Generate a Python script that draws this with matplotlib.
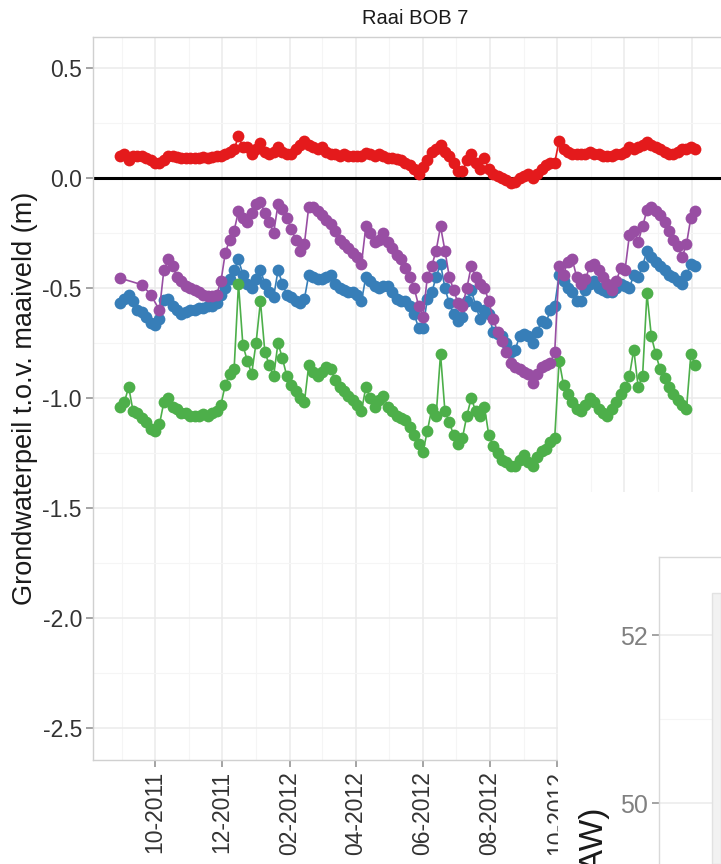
import matplotlib
import matplotlib.pyplot as plt
import matplotlib.dates as mdates
from matplotlib.patches import Rectangle
from matplotlib.ticker import FormatStrFormatter, MultipleLocator
import numpy as np
import pandas as pd

matplotlib.use("Agg")

plt.rcParams["font.family"] = ["Liberation Sans", "DejaVu Sans"]
plt.rcParams["axes.unicode_minus"] = False

title = "Raai BOB 7"
ylabel = "Grondwaterpeil t.o.v. maaiveld (m)"
ylabel_2 = "Grondwaterpeil (m TAW)"
start_date = "2011-08-30"
step_days = 4

red = [
    0.10, 0.11, 0.08, 0.10, 0.10, 0.10, 0.09, 0.08, 0.07, 0.07,
    0.08, 0.10, 0.10, 0.095, 0.09, 0.09, 0.09, 0.09, 0.09, 0.095,
    0.09, 0.095, 0.10, 0.10, 0.11, 0.12, 0.13, 0.19, 0.14, 0.14,
    0.11, 0.13, 0.16, 0.12, 0.11, 0.12, 0.14, 0.12, 0.11, 0.11,
    0.13, 0.15, 0.17, 0.15, 0.14, 0.13, 0.14, 0.12, 0.11, 0.11,
    0.10, 0.11, 0.10, 0.10, 0.10, 0.10, 0.115, 0.11, 0.10, 0.11,
    0.10, 0.09, 0.09, 0.085, 0.08, 0.07, 0.06, 0.04, 0.02, 0.05,
    0.08, 0.12, 0.13, 0.15, 0.12, 0.10, 0.07, 0.03, 0.03, 0.08,
    0.11, 0.07, 0.04, 0.09, 0.04, 0.02, 0.01, 0.0, -0.01, -0.025,
    -0.02, 0.0, 0.01, 0.02, 0.0, 0.02, 0.04, 0.06, 0.07, 0.07,
    0.17, 0.13, 0.12, 0.11, 0.11, 0.11, 0.11, 0.12, 0.11, 0.11,
    0.10, 0.10, 0.10, 0.11, 0.11, 0.12, 0.14, 0.13, 0.14, 0.15,
    0.165, 0.15, 0.14, 0.13, 0.12, 0.11, 0.11, 0.12, 0.13, 0.13,
    0.14, 0.13,
]
blue = [
    -0.57, -0.55, -0.53, -0.56, -0.60, -0.61, -0.63, -0.66, -0.67, -0.64,
    -0.555, -0.55, -0.58, -0.60, -0.62, -0.61, -0.60, -0.60, -0.59, -0.59,
    -0.58, -0.58, -0.57, -0.53, -0.50, -0.46, -0.42, -0.37, -0.44, -0.48,
    -0.50, -0.46, -0.42, -0.48, -0.52, -0.54, -0.42, -0.48, -0.53, -0.54,
    -0.56, -0.57, -0.55, -0.44, -0.45, -0.46, -0.46, -0.45, -0.44, -0.48,
    -0.50, -0.51, -0.52, -0.52, -0.53, -0.56, -0.45, -0.47, -0.49, -0.50,
    -0.49, -0.49, -0.52, -0.55, -0.56, -0.56, -0.58, -0.62, -0.68, -0.68,
    -0.55, -0.52, -0.45, -0.39, -0.50, -0.57, -0.62, -0.65, -0.63, -0.56,
    -0.51, -0.58, -0.64, -0.60, -0.62, -0.70, -0.71, -0.72, -0.75, -0.79,
    -0.78, -0.72, -0.71, -0.72, -0.75, -0.70, -0.65, -0.66, -0.60, -0.58,
    -0.44, -0.47, -0.50, -0.52, -0.56, -0.56, -0.51, -0.48, -0.47, -0.50,
    -0.51, -0.52, -0.52, -0.50, -0.48, -0.49, -0.50, -0.44, -0.45, -0.40,
    -0.33, -0.36, -0.38, -0.40, -0.42, -0.44, -0.45, -0.47, -0.48, -0.44,
    -0.39, -0.40,
]
purple = [
    -0.455, None, None, None, None, -0.485, None, -0.53, None, -0.60,
    -0.42, -0.37, -0.40, -0.45, -0.47, -0.49, -0.50, -0.51, -0.52, -0.53,
    -0.535, -0.535, -0.53, -0.47, -0.34, -0.28, -0.24, -0.15, -0.18, -0.20,
    -0.16, -0.12, -0.11, -0.16, -0.20, -0.25, -0.12, -0.14, -0.18, -0.23,
    -0.28, -0.33, -0.30, -0.13, -0.13, -0.15, -0.17, -0.19, -0.21, -0.24,
    -0.28, -0.30, -0.32, -0.34, -0.36, -0.39, -0.22, -0.25, -0.29, -0.28,
    -0.25, -0.29, -0.32, -0.35, -0.37, -0.41, -0.45, -0.50, -0.58, -0.63,
    -0.45, -0.40, -0.33, -0.22, -0.33, -0.45, -0.51, -0.57, -0.58, -0.50,
    -0.40, -0.45, -0.48, -0.50, -0.56, -0.64, -0.70, -0.74, -0.79, -0.84,
    -0.86, -0.87, -0.88, -0.89, -0.93, -0.89, -0.86, -0.85, -0.84, -0.79,
    -0.40, -0.44, -0.38, -0.37, -0.45, -0.48, -0.46, -0.40, -0.39, -0.42,
    -0.45, -0.48, -0.51, -0.47, -0.41, -0.42, -0.26, -0.24, -0.29, -0.22,
    -0.145, -0.13, -0.15, -0.17, -0.20, -0.24, -0.28, -0.31, -0.36, -0.30,
    -0.18, -0.15,
]
green = [
    -1.04, -1.02, -0.95, -1.06, -1.07, -1.09, -1.11, -1.14, -1.15, -1.12,
    -1.02, -1.00, -1.04, -1.05, -1.07, -1.07, -1.08, -1.08, -1.08, -1.075,
    -1.08, -1.07, -1.06, -1.03, -0.94, -0.89, -0.87, -0.48, -0.76, -0.83,
    -0.89, -0.75, -0.56, -0.79, -0.85, -0.90, -0.75, -0.82, -0.90, -0.94,
    -0.97, -1.00, -1.02, -0.85, -0.88, -0.90, -0.88, -0.86, -0.87, -0.92,
    -0.95, -0.97, -0.99, -1.01, -1.03, -1.06, -0.95, -1.00, -1.04, -1.01,
    -0.99, -1.04, -1.06, -1.08, -1.09, -1.10, -1.13, -1.17, -1.21, -1.245,
    -1.15, -1.05, -1.08, -0.80, -1.06, -1.11, -1.17, -1.21, -1.18, -1.08,
    -1.00, -1.06, -1.08, -1.04, -1.17, -1.22, -1.25, -1.28, -1.29, -1.31,
    -1.31, -1.28, -1.26, -1.29, -1.31, -1.27, -1.24, -1.23, -1.20, -1.18,
    -0.83, -0.94, -0.98, -1.02, -1.05, -1.06, -1.03, -1.00, -1.02, -1.05,
    -1.07, -1.08, -1.05, -1.02, -0.98, -0.95, -0.90, -0.78, -0.95, -0.90,
    -0.525, -0.72, -0.80, -0.87, -0.91, -0.95, -0.98, -1.01, -1.03, -1.05,
    -0.80, -0.85,
]

series = [
    (red, "#E41A1C"),
    (blue, "#377EB8"),
    (green, "#4DAF4A"),
    (purple, "#984EA3"),
]

W, H = 721, 864


def fx(px):
    return px / W


def fy(py):
    return 1 - py / H


fig = plt.figure(figsize=(W / 100, H / 100), dpi=100)
ax = fig.add_axes([fx(93), fy(760), (737 - 93) / W, (760 - 37) / H])

dates = pd.date_range(start_date, periods=len(red), freq=f"{step_days}D")
for vals, color in series:
    v = np.array([np.nan if x is None else x for x in vals], dtype=float)
    ok = ~np.isnan(v)
    ax.plot(dates[ok], v[ok], color=color, lw=1.2, marker="o", ms=8.5,
            mew=0, zorder=3)

ax.axhline(0, color="black", lw=2.2, zorder=2)

ax.set_xlim(pd.Timestamp("2011-08-05 12:00"), pd.Timestamp("2013-03-14"))
ax.set_ylim(-2.6455, 0.6409)
ax.xaxis.set_major_locator(mdates.MonthLocator(bymonth=[2, 4, 6, 8, 10, 12]))
ax.xaxis.set_minor_locator(mdates.MonthLocator(bymonth=[1, 3, 5, 7, 9, 11]))
ax.xaxis.set_major_formatter(mdates.DateFormatter("%m-%Y"))
ax.yaxis.set_major_locator(MultipleLocator(0.5))
ax.yaxis.set_minor_locator(MultipleLocator(0.25))
ax.yaxis.set_major_formatter(FormatStrFormatter("%.1f"))

ax.grid(which="major", color="#EBEBEB", lw=1.1)
ax.grid(which="minor", color="#F5F5F5", lw=0.8)
ax.set_axisbelow(True)
ax.tick_params(which="major", length=5, width=1.1, color="#8A8A8A",
               labelsize=16.5, labelcolor="#333333", pad=3)
ax.tick_params(which="minor", length=0)
ax.tick_params(axis="x", labelrotation=90)
for s in ax.spines.values():
    s.set_color("#D0D0D0")
    s.set_linewidth(1.0)

ax.set_title(title, fontsize=14.5, pad=9, color="#1A1A1A")
fig.text(fx(25), fy(398), ylabel, rotation=90, ha="center", va="center",
         fontsize=19.5, color="#1A1A1A")

# second chart pasted over the lower right corner
fig.add_artist(Rectangle((fx(558), 0), 1 - fx(558), fy(492),
                         transform=fig.transFigure, facecolor="white",
                         edgecolor="none", zorder=5))
ax2 = fig.add_axes([fx(659), -0.3, 0.2, fy(557) + 0.3], zorder=6)
ax2.set_ylim(46.188, 52.929)
ax2.set_xlim(0, 1)
ax2.set_yticks([48, 50, 52])
ax2.yaxis.set_minor_locator(MultipleLocator(1))
ax2.set_xticks([])
ax2.grid(which="major", axis="y", color="#EBEBEB", lw=1.1)
ax2.grid(which="minor", axis="y", color="#F5F5F5", lw=0.8)
ax2.tick_params(which="major", length=5, width=1.1, color="#8A8A8A",
                labelsize=18, labelcolor="#808080", pad=3)
ax2.tick_params(which="minor", length=0)
for s in ax2.spines.values():
    s.set_color("#D9D9D9")
    s.set_linewidth(1.0)

fig.add_artist(Rectangle((fx(712), 0), 1 - fx(712), fy(593),
                         transform=fig.transFigure, facecolor="#F2F2F2",
                         edgecolor="#E2E2E2", lw=1, zorder=7))
fig.text(fx(594), fy(807), ylabel_2, rotation=90, ha="center", va="top",
         fontsize=24, color="#1A1A1A", zorder=8)

fig.savefig("out.png", dpi=100)
